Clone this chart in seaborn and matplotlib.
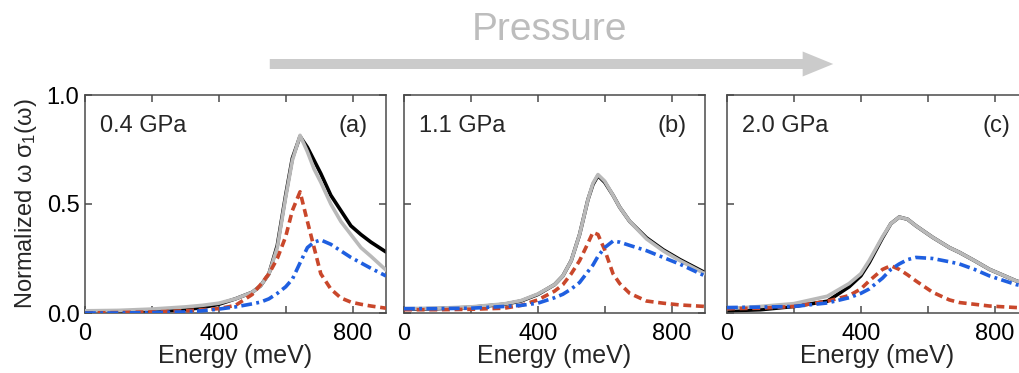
import numpy as np
import pandas as pd
import matplotlib
matplotlib.use("Agg")
import matplotlib.pyplot as plt
from matplotlib.patches import FancyArrowPatch
import seaborn as sns

# ---------------- data ----------------
energy_a = [0, 100, 200, 300, 350, 400, 450, 500, 525, 550, 575, 600, 620, 643, 665, 685, 705, 735, 765, 795, 825, 855, 900]
data_a = [0.005, 0.005, 0.008, 0.015, 0.025, 0.04, 0.065, 0.095, 0.125, 0.18, 0.31, 0.54, 0.71, 0.81, 0.76, 0.70, 0.64, 0.54, 0.47, 0.40, 0.36, 0.325, 0.28]
fit_a = [0.01, 0.012, 0.018, 0.028, 0.035, 0.045, 0.065, 0.095, 0.125, 0.18, 0.30, 0.53, 0.70, 0.815, 0.74, 0.66, 0.60, 0.50, 0.42, 0.36, 0.30, 0.26, 0.197]
red_a = [0.0, 0.002, 0.005, 0.01, 0.015, 0.02, 0.035, 0.085, 0.13, 0.18, 0.25, 0.35, 0.47, 0.556, 0.42, 0.30, 0.18, 0.11, 0.069, 0.05, 0.04, 0.032, 0.022]
blue_a = [0.0, 0.0, 0.002, 0.005, 0.01, 0.018, 0.028, 0.042, 0.05, 0.065, 0.09, 0.12, 0.155, 0.23, 0.30, 0.325, 0.335, 0.315, 0.285, 0.255, 0.23, 0.205, 0.17]

energy_b = [0, 100, 200, 300, 350, 400, 450, 475, 500, 525, 550, 565, 580, 600, 625, 645, 675, 725, 775, 825, 900]
data_b = [0.018, 0.02, 0.026, 0.04, 0.055, 0.085, 0.13, 0.17, 0.24, 0.36, 0.52, 0.59, 0.63, 0.60, 0.54, 0.485, 0.42, 0.345, 0.29, 0.245, 0.185]
fit_b = [0.02, 0.022, 0.028, 0.042, 0.057, 0.087, 0.13, 0.17, 0.24, 0.36, 0.52, 0.595, 0.635, 0.605, 0.54, 0.485, 0.42, 0.34, 0.285, 0.24, 0.18]
red_b = [0.015, 0.015, 0.017, 0.022, 0.035, 0.06, 0.10, 0.13, 0.18, 0.24, 0.32, 0.37, 0.36, 0.29, 0.18, 0.135, 0.09, 0.055, 0.045, 0.037, 0.03]
blue_b = [0.02, 0.02, 0.022, 0.03, 0.035, 0.045, 0.07, 0.086, 0.11, 0.14, 0.19, 0.22, 0.26, 0.30, 0.33, 0.325, 0.31, 0.286, 0.255, 0.224, 0.17]

energy_c = [0, 100, 200, 300, 365, 400, 425, 465, 490, 515, 540, 565, 615, 665, 695, 740, 785, 865, 900]
data_c = [0.01, 0.015, 0.03, 0.054, 0.12, 0.17, 0.23, 0.345, 0.41, 0.44, 0.43, 0.40, 0.347, 0.30, 0.278, 0.24, 0.20, 0.147, 0.13]
fit_c = [0.02, 0.03, 0.043, 0.077, 0.135, 0.18, 0.24, 0.35, 0.41, 0.44, 0.43, 0.40, 0.347, 0.30, 0.278, 0.24, 0.20, 0.147, 0.13]
red_c = [0.02, 0.022, 0.03, 0.054, 0.08, 0.11, 0.147, 0.20, 0.217, 0.20, 0.175, 0.147, 0.095, 0.06, 0.048, 0.04, 0.032, 0.025, 0.023]
blue_c = [0.025, 0.027, 0.03, 0.046, 0.07, 0.09, 0.11, 0.16, 0.20, 0.225, 0.245, 0.255, 0.25, 0.235, 0.225, 0.20, 0.17, 0.13, 0.12]

pressures = ["0.4 GPa", "1.1 GPa", "2.0 GPa"]
panel_tags = ["(a)", "(b)", "(c)"]
xtick_vals = [0, 200, 400, 600, 800]
xtick_labels = ["0", "", "400", "", "800"]
ytick_vals = [0.0, 0.5, 1.0]
ytick_labels = ["0.0", "0.5", "1.0"]

panels = [
    (energy_a, data_a, fit_a, red_a, blue_a),
    (energy_b, data_b, fit_b, red_b, blue_b),
    (energy_c, data_c, fit_c, red_c, blue_c),
]

# ---------------- style ----------------
sns.set_theme(style="ticks")
plt.rcParams["font.family"] = ["Liberation Sans", "DejaVu Sans"]
plt.rcParams["mathtext.fontset"] = "custom"
plt.rcParams["mathtext.rm"] = "Liberation Sans"
plt.rcParams["mathtext.it"] = "Liberation Sans"

fig = plt.figure(figsize=(10.2, 3.73), dpi=100)
W, H = 1020, 373
lefts = [85, 404, 727]
ax_w, top, bottom = 301, 95, 313

spine_col = "#4a4a4a"
lw = 2.6
colors = {"data": "black", "fit": "#b9b9b9", "red": "#c9472b", "blue": "#1f5fe0"}
dash_red = (2.2, 1.3)
dash_blue = (3.0, 1.2, 0.8, 1.2)

for i, (E, d, f, r, b) in enumerate(panels):
    ax = fig.add_axes([lefts[i] / W, (H - bottom) / H, ax_w / W, (bottom - top) / H])
    df = pd.DataFrame({"E": E, "data": d, "fit": f, "red": r, "blue": b})
    sns.lineplot(data=df, x="E", y="data", ax=ax, color=colors["data"], lw=lw, zorder=2)
    sns.lineplot(data=df, x="E", y="fit", ax=ax, color=colors["fit"], lw=lw, zorder=3)
    sns.lineplot(data=df, x="E", y="red", ax=ax, color=colors["red"], lw=lw, zorder=4)
    sns.lineplot(data=df, x="E", y="blue", ax=ax, color=colors["blue"], lw=lw, zorder=5)
    lines = ax.get_lines()
    lines[2].set_dashes(dash_red)
    lines[3].set_dashes(dash_blue)
    for ln in lines:
        ln.set_solid_joinstyle("round")

    ax.set_xlim(0, 900)
    ax.set_ylim(0, 1.0)
    ax.set_xticks(xtick_vals)
    ax.set_xticklabels(xtick_labels, fontsize=17)
    ax.set_yticks(ytick_vals)
    if i == 0:
        ax.set_yticklabels(ytick_labels, fontsize=17)
        ax.set_ylabel("Normalized ω σ$_1$(ω)", fontsize=17, labelpad=5.5)
    else:
        ax.set_yticklabels([])
        ax.set_ylabel("")
    ax.set_xlabel("Energy (meV)", fontsize=18, labelpad=-1)
    ax.tick_params(direction="in", length=5, width=1.1, color=spine_col,
                   top=True, right=True, labelcolor="black")
    ax.tick_params(axis="x", pad=7.5)
    ax.tick_params(axis="y", pad=4)
    for s in ax.spines.values():
        s.set_visible(True)
        s.set_color(spine_col)
        s.set_linewidth(1.1)
    ax.text(0.05, 0.86, pressures[i], transform=ax.transAxes, fontsize=17,
            ha="left", va="center")
    ax.text(0.94, 0.86, panel_tags[i], transform=ax.transAxes, fontsize=17,
            ha="right", va="center")

# Pressure arrow and label
fig.text(550 / W, 1 - 30 / H, "Pressure", fontsize=28, color="#bdbdbd",
         ha="center", va="center")
arrow = FancyArrowPatch((267 / W, 1 - 64 / H), (836 / W, 1 - 64 / H),
                        transform=fig.transFigure,
                        arrowstyle="simple,head_width=0.9,head_length=1.1,tail_width=0.36",
                        mutation_scale=20, color="#cbcbcb", lw=0)
fig.add_artist(arrow)

fig.savefig("out.png", dpi=100)
